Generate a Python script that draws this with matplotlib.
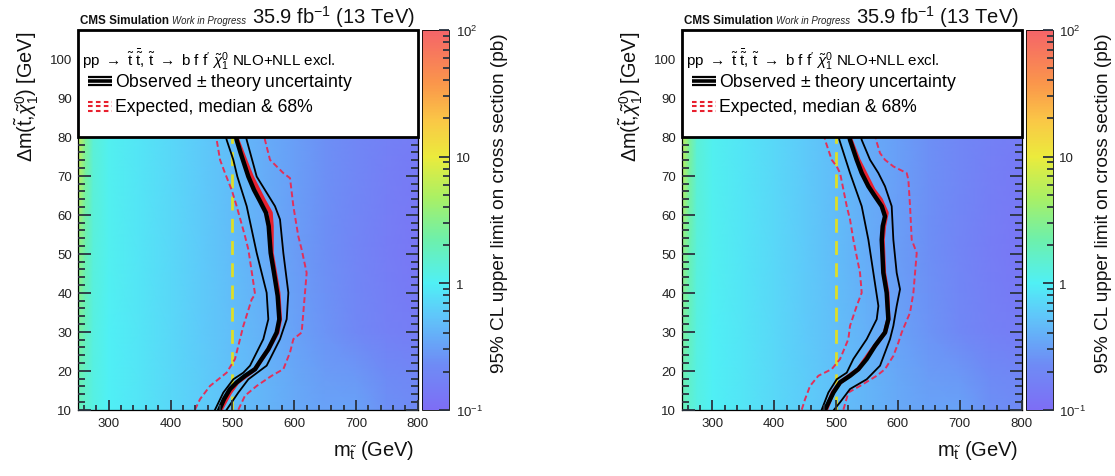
import matplotlib
matplotlib.use('Agg')
import matplotlib.pyplot as plt
import numpy as np
from matplotlib.colors import LinearSegmentedColormap, LogNorm
from matplotlib.ticker import MultipleLocator, FixedLocator, FixedFormatter, NullFormatter
from matplotlib.patches import Rectangle

plt.rcParams['font.family'] = ['Liberation Sans', 'DejaVu Sans']
plt.rcParams['mathtext.fontset'] = 'custom'
plt.rcParams['mathtext.rm'] = 'Liberation Sans'
plt.rcParams['mathtext.it'] = 'Liberation Sans:italic'
plt.rcParams['mathtext.bf'] = 'Liberation Sans:bold'
plt.rcParams['axes.axisbelow'] = False

W, H = 1115, 477

# ---------------- data ----------------
mass_nodes = [250, 262, 275, 300, 350, 400, 450, 500, 550, 600, 650, 700, 750, 800]
dm_nodes = [10, 18, 30, 50, 70, 80, 108]
limit_dm10 = [2.0, 1.5, 1.2, 1.0, 0.85, 0.7, 0.6, 0.5, 0.42, 0.36, 0.32, 0.32, 0.25, 0.22]
limit_dm18 = [2.2, 1.6, 1.2, 1.0, 0.85, 0.7, 0.6, 0.5, 0.42, 0.35, 0.30, 0.28, 0.23, 0.20]
limit_dm30 = [2.8, 1.8, 1.25, 1.0, 0.85, 0.7, 0.58, 0.48, 0.40, 0.32, 0.26, 0.21, 0.17, 0.15]
limit_dm50 = [3.8, 2.1, 1.3, 1.05, 0.85, 0.7, 0.58, 0.47, 0.38, 0.30, 0.24, 0.19, 0.15, 0.13]
limit_dm70 = [6.0, 2.6, 1.4, 1.05, 0.85, 0.7, 0.58, 0.47, 0.38, 0.31, 0.25, 0.20, 0.16, 0.14]
limit_dm80 = [6.5, 2.8, 1.4, 1.05, 0.85, 0.7, 0.58, 0.47, 0.38, 0.31, 0.25, 0.20, 0.17, 0.15]
limit_dm108 = [6.5, 2.8, 1.4, 1.05, 0.85, 0.7, 0.58, 0.47, 0.38, 0.31, 0.25, 0.20, 0.17, 0.15]

reference_mass = 500  # yellow dashed line

# left panel contours, (m_stop, delta_m)
L_obs = [(479.0, 10.0), (486.5, 12.7), (496.2, 15.3), (507.0, 17.0), (520.5, 18.7), (536.7, 20.4),
         (547.4, 23.0), (558.2, 25.5), (571.7, 29.8), (576.0, 33.2), (573.3, 39.2), (567.4, 45.1),
         (562.0, 50.2), (558.8, 57.1), (554.4, 60.5), (544.7, 63.5), (535.0, 66.4), (525.9, 69.8),
         (513.5, 75.8), (507.0, 79.2), (504.0, 82.0)]
L_obs_lo = [(472.0, 10.0), (485.4, 14.4), (501.6, 17.8), (517.8, 19.5), (528.6, 21.3), (550.1, 28.1),
            (558.2, 33.2), (555.5, 40.0), (539.4, 50.2), (523.2, 62.2), (508.1, 69.8), (501.6, 74.1),
            (490.8, 79.2), (487.0, 82.0)]
L_obs_hi = [(490.8, 10.0), (509.7, 14.4), (525.9, 17.8), (555.5, 21.3), (577.1, 28.1), (587.9, 33.2),
            (590.6, 40.0), (582.5, 50.2), (577.1, 58.8), (569.0, 62.2), (539.4, 69.8), (523.2, 79.2),
            (520.0, 82.0)]
L_exp = [(481.1, 10.0), (496.2, 14.4), (508.1, 17.0), (536.7, 20.4), (558.2, 25.5), (572.8, 29.8),
         (577.1, 33.2), (574.4, 40.0), (563.6, 50.2), (563.6, 57.1), (562.0, 60.5), (550.1, 63.9),
         (531.3, 69.8), (520.5, 74.1), (508.1, 79.2), (505.0, 82.0)]
L_exp_lo = [(439.6, 10.0), (447.7, 12.7), (463.9, 16.1), (490.8, 19.5), (504.3, 23.0), (509.7, 26.4),
            (517.8, 31.5), (531.3, 38.3), (536.7, 39.6), (534.0, 42.6), (525.9, 51.1), (520.5, 54.5),
            (507.0, 62.2), (498.9, 66.4), (488.1, 70.7), (480.1, 74.1), (474.7, 79.2), (472.0, 82.0)]
L_exp_hi = [(509.7, 10.0), (520.5, 13.6), (539.4, 16.1), (563.6, 18.7), (582.5, 20.4), (593.3, 24.7),
            (598.7, 28.1), (612.1, 29.8), (614.8, 34.9), (617.5, 40.0), (620.2, 45.1), (612.1, 51.1),
            (606.7, 54.5), (598.7, 62.2), (593.3, 69.4), (582.5, 70.7), (560.9, 74.1), (552.8, 79.2),
            (550.0, 82.0)]

# right panel contours
R_obs = [(482.2, 10.0), (495.7, 14.4), (506.5, 17.0), (522.6, 18.7), (536.1, 20.4), (549.6, 23.0),
         (563.1, 26.4), (579.2, 29.8), (584.6, 33.2), (581.9, 40.0), (576.5, 45.1), (573.9, 53.6),
         (575.5, 57.1), (579.2, 59.6), (573.9, 62.2), (563.1, 64.7), (552.3, 67.3), (541.5, 70.7),
         (533.4, 74.1), (522.6, 79.2), (519.0, 82.0)]
R_obs_lo = [(476.8, 10.0), (487.6, 14.4), (501.1, 17.8), (517.3, 19.5), (528.0, 23.0), (549.6, 28.1),
            (565.8, 33.2), (568.5, 36.6), (560.4, 45.1), (552.3, 53.6), (541.5, 62.2), (522.6, 70.7),
            (505.4, 79.2), (502.0, 82.0)]
R_obs_hi = [(496.8, 10.0), (506.5, 11.9), (522.6, 15.3), (549.6, 17.8), (571.2, 21.3), (587.3, 28.1),
            (592.7, 31.5), (598.1, 36.6), (603.5, 40.9), (598.1, 45.1), (592.7, 53.6), (590.0, 62.2),
            (579.2, 67.3), (568.5, 70.7), (555.0, 74.1), (541.5, 79.2), (538.0, 82.0)]
R_exp = [(483.8, 10.0), (494.6, 14.4), (506.5, 17.0), (536.1, 20.4), (555.0, 24.7), (579.2, 29.8),
         (584.6, 33.2), (583.0, 40.0), (577.6, 45.1), (575.5, 53.6), (577.6, 57.1), (581.9, 60.5),
         (572.2, 63.9), (560.4, 66.4), (546.9, 70.7), (536.1, 74.1), (523.7, 79.2), (520.0, 82.0)]
R_exp_lo = [(444.5, 10.0), (449.9, 12.7), (458.0, 16.1), (471.4, 18.7), (493.0, 20.4), (506.5, 23.0),
            (519.9, 28.1), (522.6, 31.5), (533.4, 36.6), (541.5, 40.0), (538.8, 45.1), (528.0, 53.6),
            (522.6, 58.8), (517.3, 62.2), (506.5, 70.7), (501.1, 72.4), (493.0, 74.1), (482.2, 79.2),
            (480.0, 82.0)]
R_exp_hi = [(511.9, 10.0), (519.9, 14.4), (538.8, 16.1), (565.8, 18.7), (579.2, 20.4), (592.7, 23.8),
            (600.8, 27.2), (606.2, 29.8), (619.7, 34.9), (625.1, 40.0), (627.8, 45.1), (630.5, 50.2),
            (622.4, 53.6), (619.7, 62.2), (617.0, 69.0), (614.3, 70.7), (592.7, 72.4), (579.2, 74.1),
            (571.2, 75.8), (564.7, 79.2), (562.0, 82.0)]

x_ticks = [300, 400, 500, 600, 700, 800]
y_ticks = [10, 20, 30, 40, 50, 60, 70, 80, 90, 100]
z_ticks = [0.1, 1, 10, 100]
z_ticklabels = ['$10^{-1}$', '1', '10', '$10^{2}$']

# ---------------- style ----------------
cmap = LinearSegmentedColormap.from_list('rootish', [
    (0.00, '#7d6ef5'),
    (0.12, '#6e8cf5'),
    (0.25, '#5fc8fa'),
    (0.333, '#50f0f5'),
    (0.45, '#6ef0aa'),
    (0.56, '#aaf064'),
    (0.667, '#ebeb3c'),
    (0.76, '#fac846'),
    (0.86, '#fa964b'),
    (1.00, '#f56469'),
])
norm = LogNorm(vmin=0.1, vmax=100)
YMAX = 107.4
RED = '#e8202e'
RED_D = '#e2305a'
TICK_C = '#2a3340'

fig = plt.figure(figsize=(W / 100, H / 100), dpi=100)


def px_rect(x, y, w, h):
    return [x / W, 1 - (y + h) / H, w / W, h / H]


def line(ax, pts, **kw):
    m = [p[0] for p in pts]
    d = [p[1] for p in pts]
    ax.plot(m, d, **kw)


def draw_panel(x0, obs, obs_lo, obs_hi, exp, exp_lo, exp_hi):
    ax = fig.add_axes(px_rect(x0, 31, 340, 379.7))
    cax = fig.add_axes(px_rect(x0 + 344.5, 31, 26.5, 379.7))
    M, D = np.meshgrid(mass_nodes, dm_nodes)
    Z = np.array([limit_dm10, limit_dm18, limit_dm30, limit_dm50, limit_dm70, limit_dm80, limit_dm108])
    mesh = ax.pcolormesh(M, D, Z, cmap=cmap, norm=norm, shading='gouraud', zorder=0)
    ax.plot([reference_mass, reference_mass], [10, YMAX], color='#dede28', lw=2.0,
            ls=(0, (5, 3)), zorder=2)
    line(ax, exp_lo, color=RED_D, lw=1.4, ls=(0, (3, 1.6)), zorder=3)
    line(ax, exp_hi, color=RED_D, lw=1.4, ls=(0, (3, 1.6)), zorder=3)
    line(ax, exp, color=RED, lw=3.0, zorder=4)
    line(ax, obs_lo, color='black', lw=1.3, zorder=5)
    line(ax, obs_hi, color='black', lw=1.3, zorder=5)
    line(ax, obs, color='black', lw=3.2, zorder=6)
    ax.set_xlim(250, 800)
    ax.set_ylim(10, YMAX)
    ax.set_xticks(x_ticks)
    ax.set_yticks(y_ticks)
    ax.xaxis.set_minor_locator(MultipleLocator(20))
    ax.yaxis.set_minor_locator(MultipleLocator(2))
    ax.tick_params(which='both', direction='in', top=True, right=True, labelsize=9.5,
                   width=1.3, color=TICK_C, labelcolor='#222222')
    ax.tick_params(axis='y', which='major', length=9, pad=4)
    ax.tick_params(axis='y', which='minor', length=4.8)
    ax.tick_params(axis='x', which='major', length=7, pad=5)
    ax.tick_params(axis='x', which='minor', length=3.6)
    ax.xaxis.set_zorder(8)
    ax.yaxis.set_zorder(8)
    for s in ax.spines.values():
        s.set_linewidth(0.9)
        s.set_zorder(8)

    # legend box
    yb = (80 - 10) / (YMAX - 10)
    ax.add_patch(Rectangle((0, yb), 1, 1 - yb, transform=ax.transAxes, facecolor='white',
                           edgecolor='black', lw=2.0, zorder=10, clip_on=False))

    def ax_xy(px, py):
        return ((px - 77.8) / 340.0, (410.7 - py) / 379.7)

    tx, ty = ax_xy(82, 60)
    ax.text(tx, ty, r'pp $\rightarrow$ $\tilde{\mathrm{t}}$ $\bar{\tilde{\mathrm{t}}}$, '
            r'$\tilde{\mathrm{t}}$ $\rightarrow$ b f f$^{\prime}$ $\tilde{\chi}^{0}_{1}$ NLO+NLL excl.',
            transform=ax.transAxes, fontsize=10.9, va='center', ha='left', zorder=11)
    # observed icon
    xa, _ = ax_xy(88, 0)
    xb, _ = ax_xy(112, 0)
    for py, lw in [(77.5, 1.6), (81.8, 2.6), (86.1, 1.6)]:
        _, yy = ax_xy(0, py)
        ax.plot([xa, xb], [yy, yy], color='black', lw=lw, transform=ax.transAxes,
                clip_on=False, zorder=11, solid_capstyle='butt')
    tx, ty = ax_xy(115, 82)
    ax.text(tx, ty, r'Observed $\pm$ theory uncertainty', transform=ax.transAxes,
            fontsize=12.7, va='center', ha='left', zorder=11)
    # expected icon
    for py in [102.5, 107.0, 111.5]:
        _, yy = ax_xy(0, py)
        ax.plot([xa, xb], [yy, yy], color=RED, lw=1.5, ls=(0, (2.2, 1.6)), transform=ax.transAxes,
                clip_on=False, zorder=11)
    tx, ty = ax_xy(115, 107)
    ax.text(tx, ty, r'Expected, median & 68%', transform=ax.transAxes,
            fontsize=12.7, va='center', ha='left', zorder=11)

    # colorbar
    cb = fig.colorbar(mesh, cax=cax)
    cb.outline.set_linewidth(0.6)
    cax.yaxis.set_major_locator(FixedLocator(z_ticks))
    cax.yaxis.set_major_formatter(FixedFormatter(z_ticklabels))
    minor = [k * 10.0 ** e for e in (-1, 0, 1) for k in range(2, 10)]
    cax.yaxis.set_minor_locator(FixedLocator(minor))
    cax.yaxis.set_minor_formatter(NullFormatter())
    cax.tick_params(which='both', direction='in', right=True, left=False, labelsize=9.5,
                    width=1.3, color=TICK_C, labelcolor='#222222')
    cax.tick_params(which='major', length=7.5, pad=5)
    cax.tick_params(which='minor', length=4.2)
    cax.yaxis.set_zorder(8)

    # texts outside
    fig.text((x0 + 2.2) / W, 1 - 24 / H, 'CMS Simulation', fontsize=8.4, fontweight='bold',
             ha='left', va='baseline', color='#111111')
    fig.text((x0 + 94) / W, 1 - 24 / H, 'Work in Progress', fontsize=6.9, fontstyle='italic',
             ha='left', va='baseline', color='#222222')
    fig.text((x0 + 337) / W, 1 - 24 / H, r'35.9 fb$^{-1}$ (13 TeV)', fontsize=14.5,
             ha='right', va='baseline', color='#111111')
    fig.text((x0 + 337) / W, 1 - 451 / H, r'm$_{\tilde{\mathrm{t}}}$ (GeV)', fontsize=14.5,
             ha='right', va='center', color='#111111')
    fig.text((x0 - 51) / W, 1 - 32 / H, r'$\Delta$m($\tilde{\mathrm{t}}$,$\tilde{\chi}^{0}_{1}$) [GeV]',
             fontsize=14.3, rotation=90, rotation_mode='anchor', ha='right', va='center',
             color='#111111')
    fig.text((x0 + 422) / W, 1 - 33 / H, '95% CL upper limit on cross section (pb)',
             fontsize=13.7, rotation=90, rotation_mode='anchor', ha='right', va='center',
             color='#111111')


draw_panel(77.8, L_obs, L_obs_lo, L_obs_hi, L_exp, L_exp_lo, L_exp_hi)
draw_panel(681.5, R_obs, R_obs_lo, R_obs_hi, R_exp, R_exp_lo, R_exp_hi)

fig.savefig('out.png', dpi=100, facecolor='white')
